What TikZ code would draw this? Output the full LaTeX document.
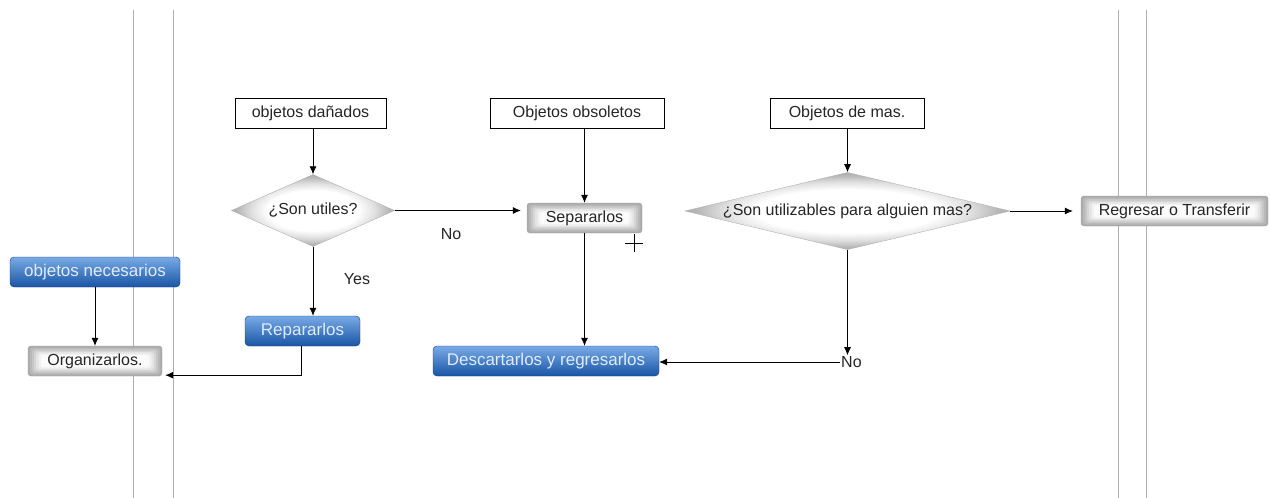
\documentclass[tikz,border=0pt]{standalone}
\usepackage{fontspec}
\setmainfont{Liberation Sans}
\usetikzlibrary{arrows.meta,shapes.geometric}
\definecolor{bluetop}{RGB}{120,170,230}
\definecolor{bluebot}{RGB}{25,85,165}
\definecolor{blueedge}{RGB}{20,60,130}
\definecolor{bluetext}{RGB}{225,235,248}
\definecolor{lane}{RGB}{175,175,175}
\pgfdeclareradialshading{glowshade}{\pgfpoint{0bp}{0bp}}{%
  color(0bp)=(white); color(14bp)=(white); color(19bp)=(gray!25);
  color(23bp)=(gray!55); color(26bp)=(gray!68); color(50bp)=(gray!72)}
\tikzset{
  txt/.style={font=\fontsize{16}{19}\selectfont, text=black!85},
  plainbox/.style={txt, draw=black, fill=white, inner sep=0pt, minimum height=30pt},
  graybox/.style={txt, rounded corners=3pt, draw=gray!75, fill=gray!65, inner sep=0pt, minimum height=30pt,
    path picture={
      \foreach \dx/\dy/\c in {2/1.5/56,4/3/45,6/4.5/33,8/6/21,10.5/7.5/10,13/9/3}
        \fill[gray!\c, rounded corners=3pt]
          ([shift={(\dx pt,-\dy pt)}]path picture bounding box.north west) rectangle
          ([shift={(-\dx pt,\dy pt)}]path picture bounding box.south east);
    }},
  bluebox/.style={font=\fontsize{17}{20}\selectfont, text=bluetext, rounded corners=4pt, draw=blueedge,
    top color=bluetop, bottom color=bluebot, inner sep=0pt, minimum height=30pt},
  decision/.style={txt, diamond, draw=gray!60, inner sep=0pt, aspect=4, shading=glowshade},
  lbl/.style={txt, inner sep=1pt},
  conn/.style={draw=black, line width=0.8pt, -{Latex[length=8pt,width=7pt]}},
  laneline/.style={draw=lane, line width=0.9pt},
  cursor/.style={draw=black, line width=0.6pt}
}
\begin{document}
\begin{tikzpicture}[x=1pt,y=-1pt]
\useasboundingbox (0,0) rectangle (1270,498);
\fill[white] (0,0) rectangle (1270,498);
% lanes
\coordinate (l1t) at (133,10); \coordinate (l1b) at (133,498);
\coordinate (l2t) at (173,10); \coordinate (l2b) at (173,498);
\coordinate (l3t) at (1118,10); \coordinate (l3b) at (1118,498);
\coordinate (l4t) at (1146,10); \coordinate (l4b) at (1146,498);
\draw[laneline] (l1t) -- (l1b);
\draw[laneline] (l2t) -- (l2b);
\draw[laneline] (l3t) -- (l3b);
\draw[laneline] (l4t) -- (l4b);

% top boxes
\node[plainbox, minimum width=151pt] (dan) at (310.5,113) {objetos dañados};
\node[plainbox, minimum width=174pt] (obs) at (577,113) {Objetos obsoletos};
\node[plainbox, minimum width=154pt] (mas) at (847,113) {Objetos de mas.};

% decisions
\node[decision, minimum width=163pt, minimum height=72pt] (util) at (313,210.5) {¿Son utiles?};
\node[decision, minimum width=325pt, minimum height=74pt] (alg) at (847.5,211) {¿Son utilizables para alguien mas?};

% gray boxes
\node[graybox, minimum width=115pt] (sep) at (584.5,218) {Separarlos};
\node[graybox, minimum width=187pt] (reg) at (1174.5,211) {Regresar o Transferir};
\node[graybox, minimum width=134pt] (org) at (95,361) {Organizarlos.};

% blue boxes
\node[bluebox, minimum width=170pt] (nec) at (95,272) {objetos necesarios};
\node[bluebox, minimum width=115pt] (rep) at (302.5,331) {Repararlos};
\node[bluebox, minimum width=226pt] (des) at (546,361) {Descartarlos y regresarlos};

% labels
\node[lbl] (no1) at (451,234) {No};
\node[lbl] (yes) at (357,279) {Yes};
\node[lbl, anchor=west] (no2) at (840,362) {No};

% cursor mark
\coordinate (plus) at (634,243);
\draw[cursor] ([xshift=-9pt]plus) -- ([xshift=9pt]plus);
\draw[cursor] ([yshift=-9pt]plus) -- ([yshift=9pt]plus);

% connectors
\draw[conn] (dan.south -| util.north) -- (util.north);
\draw[conn] (obs.south -| sep.north) -- (sep.north);
\draw[conn] (mas.south -| alg.north) -- (alg.north);
\draw[conn] (util.east) -- ([xshift=-6pt]util.east -| sep.west);
\draw[conn] (util.south) -- (util.south |- rep.north);
\draw[conn] (sep.south) -- (sep.south |- des.north);
\draw[conn] (alg.south) -- (alg.south |- no2.north);
\draw[conn] (no2.west) -- (no2.west -| des.east);
\draw[conn] (alg.east) -- ([xshift=-8pt]reg.west);
\draw[conn] (nec.south) -- (org.north);
\coordinate (repturn) at (rep.south |- org.south);
\draw[conn] ([xshift=-1pt]rep.south) -- ([xshift=-1pt,yshift=1pt]repturn) -- ([xshift=3pt,yshift=1pt]org.south east);
\end{tikzpicture}
\end{document}
